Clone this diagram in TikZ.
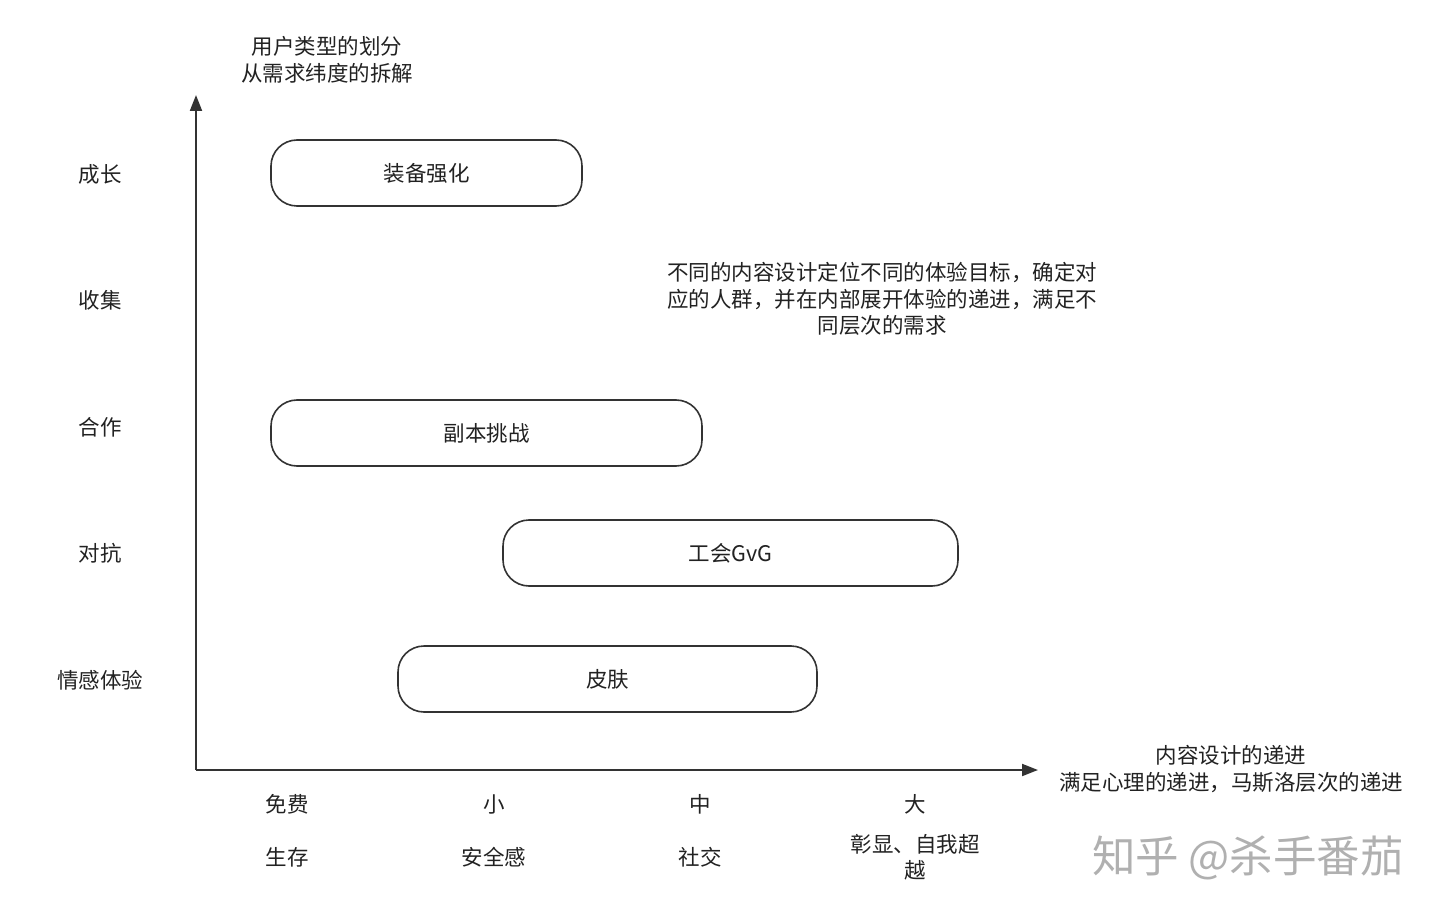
\documentclass[tikz,border=0pt]{standalone}
\usepackage{fontspec}
\setmainfont{Noto Sans CJK SC}
\usepackage{tikz}
\usetikzlibrary{arrows.meta}
\definecolor{linegray}{HTML}{333333}
\definecolor{textgray}{HTML}{222222}
\definecolor{markgray}{HTML}{B0B0B0}

\begin{document}
\begin{tikzpicture}[x=1pt, y=-1pt,
  lbl/.style = {text=textgray, font=\fontsize{21.5}{26.5}\selectfont, align=center, inner sep=0pt},
  bar/.style = {draw=linegray, line width=1.6pt, rounded corners=26pt, fill=white, inner sep=0pt, text=textgray, font=\fontsize{21.5}{26.5}\selectfont},
  axis/.style = {draw=linegray, line width=2pt, -{Triangle[length=16pt, width=12pt]}}]
\useasboundingbox (0,0) rectangle (1440,917);

% axes
\coordinate (origin) at (196,770);
\coordinate (ytop) at (196,95);
\coordinate (xend) at (1038,770);
\draw [axis] (origin) -- (ytop);
\draw [axis] (origin) -- (xend);
\node [lbl] (ytitle) at (327,60) {用户类型的划分\\从需求纬度的拆解};
\node [lbl] (xtitle) at (1231,769) {内容设计的递进\\满足心理的递进，马斯洛层次的递进};

% user types
\node [lbl] (grow) at (100,174) {成长};
\node [lbl] (collect) at (100,300) {收集};
\node [lbl] (coop) at (100,427) {合作};
\node [lbl] (fight) at (100,553) {对抗};
\node [lbl] (feel) at (100,680) {情感体验};

% content bars
\node [bar, minimum width=311pt, minimum height=66pt] (gear) at (426.5,173) {装备强化};
\node [bar, minimum width=431pt, minimum height=66pt] (dungeon) at (486.5,433) {副本挑战};
\node [bar, minimum width=455pt, minimum height=66pt] (guild) at (730.5,553) {工会GvG};
\node [bar, minimum width=419pt, minimum height=66pt] (skin) at (607.5,679) {皮肤};

\node [lbl] (note) at (882,299) {不同的内容设计定位不同的体验目标，确定对\\应的人群，并在内部展开体验的递进，满足不\\同层次的需求};

% spending levels / needs
\node [lbl] (free) at (287,804) {免费};
\node [lbl] (small) at (494,804) {小};
\node [lbl] (mid) at (700,804) {中};
\node [lbl] (big) at (915,804) {大};
\node [lbl] (live) at (287,857) {生存};
\node [lbl] (safe) at (494,857) {安全感};
\node [lbl] (social) at (700,857) {社交};
\node [lbl] (self) at (915,857) {彰显、自我超\\越};

\node [text=markgray, font=\fontsize{43.5}{48}\selectfont, inner sep=0pt] (mark) at (1248,858) {知乎 @杀手番茄};
\end{tikzpicture}
\end{document}
